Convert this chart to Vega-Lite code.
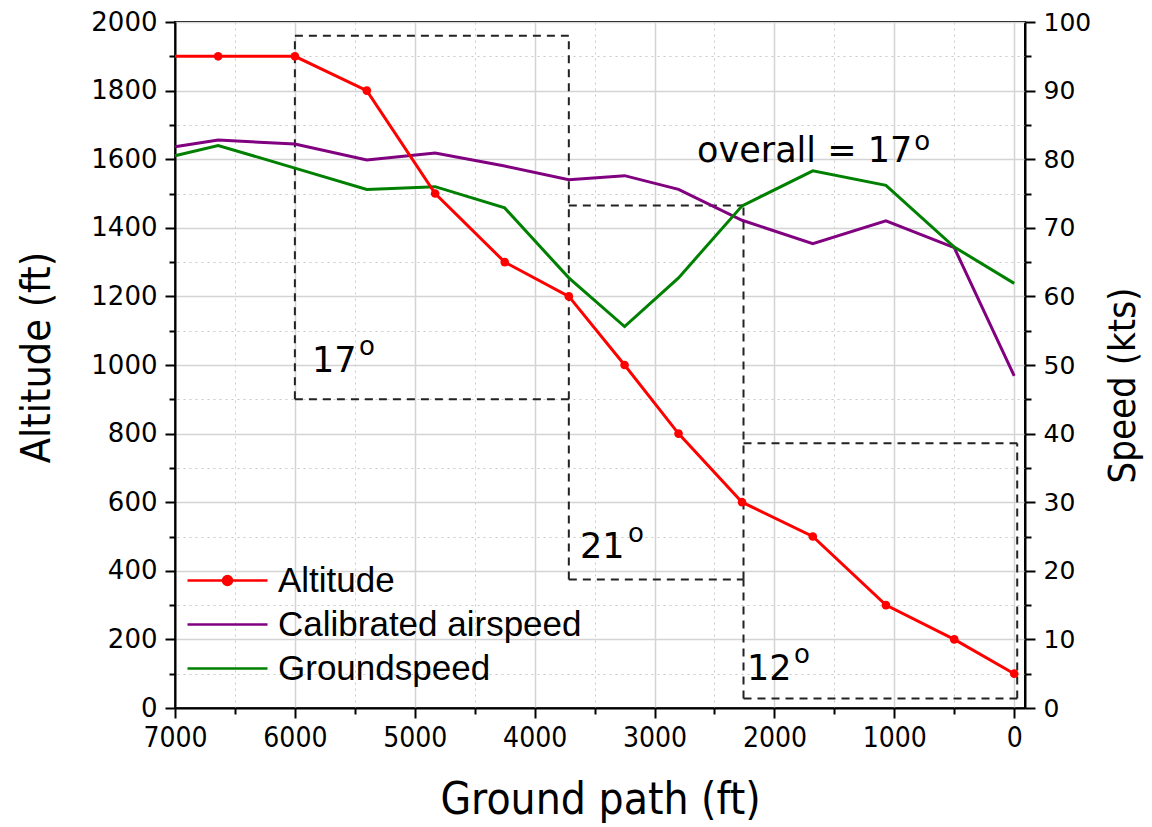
{
  "$schema": "https://vega.github.io/schema/vega-lite/v6.json",
  "width": 850,
  "height": 686,
  "autosize": {"type": "none"},
  "padding": {"left": 175, "top": 22, "right": 127, "bottom": 119},
  "background": "white",
  "config": {
    "view": {"stroke": "black", "strokeWidth": 2},
    "font": "Liberation Sans",
    "axis": {
      "domainColor": "black", "domainWidth": 2,
      "tickColor": "black", "tickWidth": 2,
      "labelColor": "black", "titleColor": "black",
      "titleFontWeight": "normal",
      "gridColor": "#d4d4d4"
    }
  },
  "datasets": {
    "flight": [
      {"dist": 7000, "Altitude": 1900, "Calibrated airspeed": 81.8, "Groundspeed": 80.5},
      {"dist": 6640, "Altitude": 1900, "Calibrated airspeed": 82.8, "Groundspeed": 82.0},
      {"dist": 6000, "Altitude": 1900, "Calibrated airspeed": 82.2, "Groundspeed": 78.7},
      {"dist": 5400, "Altitude": 1800, "Calibrated airspeed": 79.9, "Groundspeed": 75.6},
      {"dist": 4830, "Altitude": 1500, "Calibrated airspeed": 80.9, "Groundspeed": 76.0},
      {"dist": 4250, "Altitude": 1300, "Calibrated airspeed": 79.0, "Groundspeed": 72.9},
      {"dist": 3715, "Altitude": 1200, "Calibrated airspeed": 77.0, "Groundspeed": 62.7},
      {"dist": 3250, "Altitude": 1000, "Calibrated airspeed": 77.6, "Groundspeed": 55.6},
      {"dist": 2800, "Altitude": 800, "Calibrated airspeed": 75.6, "Groundspeed": 62.7},
      {"dist": 2270, "Altitude": 600, "Calibrated airspeed": 71.1, "Groundspeed": 73.2},
      {"dist": 1680, "Altitude": 500, "Calibrated airspeed": 67.7, "Groundspeed": 78.3},
      {"dist": 1070, "Altitude": 300, "Calibrated airspeed": 71.0, "Groundspeed": 76.2},
      {"dist": 500, "Altitude": 200, "Calibrated airspeed": 67.1, "Groundspeed": 67.2},
      {"dist": 0, "Altitude": 100, "Calibrated airspeed": 48.4, "Groundspeed": 61.9}
    ],
    "edges": [
      {"x1": 6000, "x2": 3715, "y1": 1960, "y2": 1960},
      {"x1": 6000, "x2": 6000, "y1": 900, "y2": 1960},
      {"x1": 6000, "x2": 3715, "y1": 900, "y2": 900},
      {"x1": 3715, "x2": 3715, "y1": 900, "y2": 1960},
      {"x1": 3715, "x2": 2258, "y1": 1465, "y2": 1465},
      {"x1": 3715, "x2": 3715, "y1": 375, "y2": 900},
      {"x1": 3715, "x2": 2258, "y1": 375, "y2": 375},
      {"x1": 2258, "x2": 2258, "y1": 375, "y2": 1465},
      {"x1": 2258, "x2": -25, "y1": 772, "y2": 772},
      {"x1": 2258, "x2": 2258, "y1": 28, "y2": 375},
      {"x1": 2258, "x2": -25, "y1": 28, "y2": 28},
      {"x1": -25, "x2": -25, "y1": 28, "y2": 772}
    ],
    "notes": [
      {"dist": 5857, "alt": 980, "label": "17", "kind": "main"},
      {"dist": 5465, "alt": 1029, "label": "o", "kind": "sup"},
      {"dist": 3621, "alt": 437, "label": "21", "kind": "main"},
      {"dist": 3221, "alt": 485, "label": "o", "kind": "sup"},
      {"dist": 2228, "alt": 82, "label": "12", "kind": "main"},
      {"dist": 1836, "alt": 131, "label": "o", "kind": "sup"},
      {"dist": 2645, "alt": 1592, "label": "overall = 17", "kind": "main"},
      {"dist": 834, "alt": 1627, "label": "o", "kind": "sup"}
    ]
  },
  "layer": [
    {
      "data": {"name": "edges"},
      "mark": {"type": "rule", "color": "#222222", "strokeWidth": 2, "strokeDash": [8, 6]},
      "encoding": {
        "x": {"field": "x1", "type": "quantitative", "scale": {"domain": [-90, 7000], "reverse": true, "nice": false, "zero": false}, "axis": null},
        "x2": {"field": "x2"},
        "y": {"field": "y1", "type": "quantitative", "scale": {"domain": [0, 2000], "nice": false}, "axis": null},
        "y2": {"field": "y2"}
      }
    },
    {
      "data": {"name": "flight"},
      "transform": [{"fold": ["Calibrated airspeed", "Groundspeed"], "as": ["series", "speed"]}],
      "mark": {"type": "line", "strokeWidth": 3},
      "encoding": {
        "x": {"field": "dist", "type": "quantitative", "scale": {"domain": [-90, 7000], "reverse": true, "nice": false, "zero": false}, "axis": null},
        "y": {"field": "speed", "type": "quantitative", "scale": {"domain": [0, 100], "nice": false},
          "axis": {"orient": "right", "values": [0, 10, 20, 30, 40, 50, 60, 70, 80, 90, 100], "title": "Speed (kts)", "grid": false,
            "tickSize": 10, "labelFont": "DejaVu Sans", "labelFontSize": 25, "labelPadding": 8,
            "titleFont": "DejaVu Sans Condensed, Liberation Sans", "titleFontSize": 38, "titleAngle": 270, "titlePadding": 52, "titleY": 363}},
        "color": {"field": "series", "type": "nominal", "legend": {"title": null}}
      }
    },
    {
      "data": {"name": "flight"},
      "transform": [{"fold": ["Calibrated airspeed", "Groundspeed"], "as": ["series", "speed"]}],
      "mark": {"type": "point", "opacity": 0},
      "encoding": {
        "x": {"field": "dist", "type": "quantitative", "scale": {"domain": [-90, 7000], "reverse": true, "nice": false, "zero": false}, "axis": null},
        "y": {"field": "speed", "type": "quantitative", "scale": {"domain": [0, 100], "nice": false},
          "axis": {"orient": "right", "values": [5, 15, 25, 35, 45, 55, 65, 75, 85, 95], "title": null, "labels": false, "grid": false, "domain": false, "tickSize": 6}}
      }
    },
    {
      "data": {"name": "flight"},
      "mark": {"type": "line", "strokeWidth": 3},
      "encoding": {
        "x": {"field": "dist", "type": "quantitative", "scale": {"domain": [-90, 7000], "reverse": true, "nice": false, "zero": false},
          "axis": {"orient": "bottom", "values": [0, 1000, 2000, 3000, 4000, 5000, 6000, 7000], "format": "d", "title": "Ground path (ft)",
            "grid": true, "gridWidth": 1.5, "tickSize": 10, "labelFont": "DejaVu Sans Condensed, Liberation Sans", "labelFontSize": 28, "labelPadding": 6, "labelFlush": false,
            "titleFont": "DejaVu Sans Condensed, Liberation Sans", "titleFontSize": 44, "titlePadding": 26}},
        "y": {"field": "Altitude", "type": "quantitative", "scale": {"domain": [0, 2000], "nice": false},
          "axis": {"orient": "left", "values": [0, 200, 400, 600, 800, 1000, 1200, 1400, 1600, 1800, 2000], "format": "d", "title": "Altitude (ft)",
            "grid": true, "gridWidth": 1.5, "tickSize": 10, "labelFont": "DejaVu Sans", "labelFontSize": 26, "labelPadding": 8,
            "titleFont": "DejaVu Sans Condensed, Liberation Sans", "titleFontSize": 41, "titlePadding": 32, "titleY": 335}},
        "color": {"datum": "Altitude",
          "scale": {"domain": ["Altitude", "Calibrated airspeed", "Groundspeed"], "range": ["#ff0000", "#800080", "#008000"]},
          "legend": {"title": null, "orient": "none", "legendX": 35, "legendY": 541, "padding": 0,
            "symbolType": "stroke", "symbolSize": 400, "symbolStrokeWidth": 2.5,
            "labelFont": "Liberation Sans", "labelFontSize": 35, "labelColor": "black", "labelOffset": 33, "labelLimit": 500, "rowPadding": 8,
            "encode": {"symbols": {"update": {
              "shape": {"signal": "datum.value === 'Altitude' ? 'M-4,0H4M-0.45,0A0.45,0.45 0 1,0 0.45,0A0.45,0.45 0 1,0 -0.45,0Z' : 'M-4,0H4'"},
              "fill": {"signal": "scale('color', datum.value)"}
            }}}}}
      }
    },
    {
      "data": {"name": "flight"},
      "transform": [{"filter": "datum.dist < 7000"}],
      "mark": {"type": "point", "filled": true, "size": 75, "color": "#ff0000", "opacity": 1},
      "encoding": {
        "x": {"field": "dist", "type": "quantitative", "scale": {"domain": [-90, 7000], "reverse": true, "nice": false, "zero": false},
          "axis": {"orient": "bottom", "values": [500, 1500, 2500, 3500, 4500, 5500, 6500], "labels": false, "title": null, "domain": false,
            "grid": true, "gridDash": [2, 4], "gridWidth": 1, "gridColor": "#c8c8c8", "tickSize": 6}},
        "y": {"field": "Altitude", "type": "quantitative", "scale": {"domain": [0, 2000], "nice": false},
          "axis": {"orient": "left", "values": [100, 300, 500, 700, 900, 1100, 1300, 1500, 1700, 1900], "labels": false, "title": null, "domain": false,
            "grid": true, "gridDash": [2, 4], "gridWidth": 1, "gridColor": "#c8c8c8", "tickSize": 6}}
      }
    },
    {
      "data": {"name": "notes"},
      "transform": [{"filter": "datum.kind === 'main'"}],
      "mark": {"type": "text", "align": "left", "baseline": "alphabetic", "font": "DejaVu Sans", "fontSize": 35, "color": "black"},
      "encoding": {
        "x": {"field": "dist", "type": "quantitative", "scale": {"domain": [-90, 7000], "reverse": true, "nice": false, "zero": false}, "axis": null},
        "y": {"field": "alt", "type": "quantitative", "scale": {"domain": [0, 2000], "nice": false}, "axis": null},
        "text": {"field": "label"}
      }
    },
    {
      "data": {"name": "notes"},
      "transform": [{"filter": "datum.kind === 'sup'"}],
      "mark": {"type": "text", "align": "left", "baseline": "alphabetic", "font": "DejaVu Sans", "fontSize": 26, "color": "black"},
      "encoding": {
        "x": {"field": "dist", "type": "quantitative", "scale": {"domain": [-90, 7000], "reverse": true, "nice": false, "zero": false}, "axis": null},
        "y": {"field": "alt", "type": "quantitative", "scale": {"domain": [0, 2000], "nice": false}, "axis": null},
        "text": {"field": "label"}
      }
    }
  ],
  "resolve": {"scale": {"y": "independent"}, "axis": {"x": "independent", "y": "independent"}}
}
